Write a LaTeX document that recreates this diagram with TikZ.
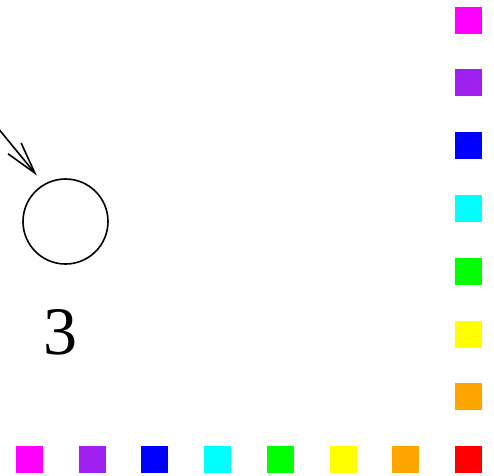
\documentclass[tikz,border=0pt]{standalone}
\usepackage{fontspec}
\setmainfont{Liberation Serif}
\usetikzlibrary{arrows.meta}
\definecolor{cmag}{HTML}{FF00FF}
\definecolor{cpurple}{HTML}{A020F0}
\definecolor{cblue}{HTML}{0000FF}
\definecolor{ccyan}{HTML}{00FFFF}
\definecolor{cgreen}{HTML}{00FF00}
\definecolor{cyellow}{HTML}{FFFF00}
\definecolor{corange}{HTML}{FFA500}
\definecolor{cred}{HTML}{FF0000}
\begin{document}
\begin{tikzpicture}[x=1pt,y=-1pt,
  sq/.style={minimum size=27pt,inner sep=0pt,outer sep=0pt,draw=none},
  ring/.style={circle,draw,line width=1.6pt,minimum size=85pt,inner sep=0pt}]
\useasboundingbox (0,0) rectangle (494,475);
\node[ring] (c) at (65.5,221.5) {};
\coordinate (s) at (-12,116);
\draw[line width=1.6pt,-{Straight Barb[length=32pt,width=17pt,line width=1.6pt]},shorten >=11pt] (s) -- (c.120);
\node[font=\fontsize{68}{68}\selectfont,inner sep=0pt] (t) at (60,332) {3};
\foreach \c [count=\i from 0] in {cmag,cpurple,cblue,ccyan,cgreen,cyellow,corange}{
  \node[sq,fill=\c] (b\i) at ({29.5+62.71*\i},459.5) {};
  \node[sq,fill=\c] (r\i) at (468.5,{20+62.8*\i}) {};
}
\node[sq,fill=cred] (last) at (468.5,459.5) {};
\end{tikzpicture}
\end{document}
